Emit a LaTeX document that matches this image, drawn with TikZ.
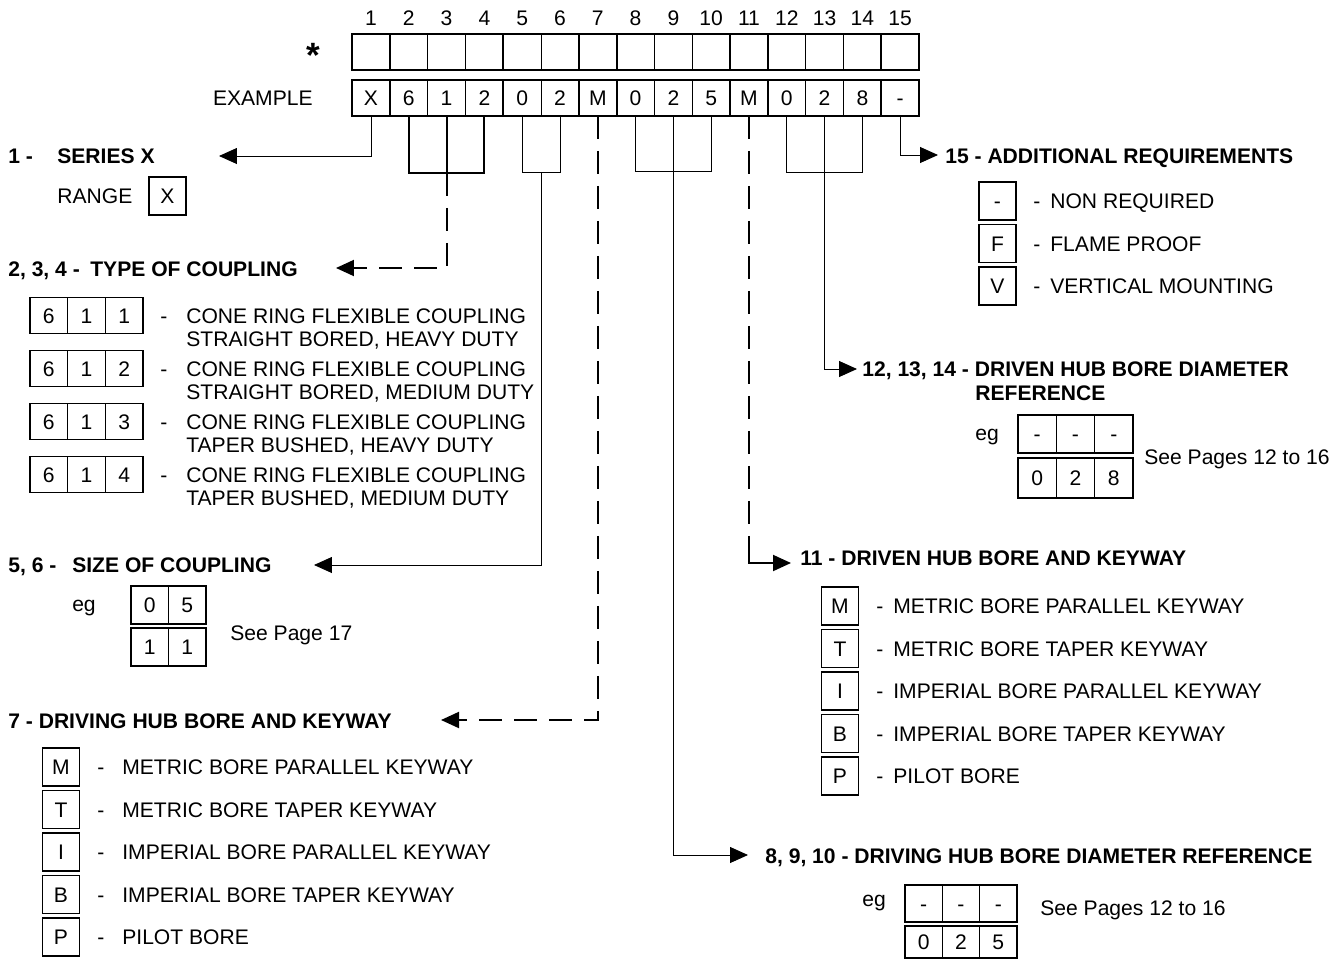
\documentclass[tikz,border=0pt]{standalone}
\usepackage{fontspec}
\setmainfont{Liberation Sans}
\usepackage{tikz}
\usetikzlibrary{arrows.meta,positioning}

\begin{document}
\begin{tikzpicture}[
  x=0.02cm, y=-0.02cm,
  font=\fontsize{12}{14}\selectfont,
  cell/.style={draw, line width=0.5pt, minimum width=0.756cm, minimum height=0.72cm,
    inner sep=0pt, outer sep=0pt, text height=8.6pt, text depth=0pt},
  keybox/.style={draw, line width=1.1pt, minimum width=0.74cm, minimum height=0.76cm,
    inner sep=0pt, text height=8.6pt, text depth=0pt},
  txt/.style={anchor=west, inner sep=0pt, text height=8.6pt, text depth=0pt},
  head/.style={txt, font=\fontsize{12}{14}\selectfont\bfseries},
  fine/.style={line width=0.5pt},
  heavy/.style={line width=1.1pt},
  gapline/.style={line width=1.1pt, dash pattern=on 0.46cm off 0.24cm},
  arrow/.style={-{Triangle[length=0.36cm, width=0.32cm]}}
]
\useasboundingbox (0,0) rectangle (1343,960);

\foreach \i/\v in {1/X,2/6,3/1,4/2,5/0,6/2,7/M,8/0,9/2,10/5,11/M,12/0,13/2,14/8,15/-} {
  \node[txt, anchor=center] (n\i) at ({371+(\i-1)*37.8},18) {\i};
  \node[cell] (c\i) at ({371+(\i-1)*37.8},52) {};
  \node[cell] (e\i) at ({371+(\i-1)*37.8},98) {\v};
}
\foreach \a/\b in {1/1,2/4,5/6,7/7,8/10,11/11,12/14,15/15} {
  \draw[heavy] (c\a.north west) rectangle (c\b.south east);
  \draw[heavy] (e\a.north west) rectangle (e\b.south east);
}
\node (star) at (313,55) {\fontsize{20}{20}\selectfont\bfseries *};
\node[txt, anchor=east] (exlbl) at (313,98) {EXAMPLE};

\node[head] (t1) at (8,156) {\makebox[0.98cm][l]{1 -}SERIES X};
\node[txt] (range) at (57,196) {RANGE};
\node[keybox] (kx) at (167.5,196) {X};

\node[head] (t2) at (8,269) {\makebox[1.64cm][l]{2, 3, 4 -}TYPE OF COUPLING};
\foreach \k/\second in {1/{STRAIGHT BORED, HEAVY DUTY}, 2/{STRAIGHT BORED, MEDIUM DUTY},
    3/{TAPER BUSHED, HEAVY DUTY}, 4/{TAPER BUSHED, MEDIUM DUTY}} {
  \node[cell, minimum width=0.754cm] (cpa\k) at (48.8,{315.5+53*(\k-1)}) {6};
  \node[cell, minimum width=0.754cm] (cpb\k) at (86.5,{315.5+53*(\k-1)}) {1};
  \node[cell, minimum width=0.754cm] (cpc\k) at (124.2,{315.5+53*(\k-1)}) {\k};
  \draw[heavy] (cpa\k.north west) rectangle (cpc\k.south east);
  \node[txt, anchor=center] (cpd\k) at (164,{315.5+53*(\k-1)}) {-};
  \node[txt] (cpt\k) at (186,{315.5+53*(\k-1)}) {CONE RING FLEXIBLE COUPLING};
  \node[txt] (cpu\k) at (186,{338.5+53*(\k-1)}) {\second};
}

\node[head] (t5) at (8,565) {\makebox[1.28cm][l]{5, 6 -}SIZE OF COUPLING};
\node[txt, anchor=center] (eg5) at (84,604) {eg};
\foreach \j/\u/\w in {0/0/1, 1/5/1} {
  \node[cell, minimum width=0.75cm, minimum height=0.76cm] (sa\j) at ({149.75+37.5*\j},605) {\u};
  \node[cell, minimum width=0.75cm, minimum height=0.76cm] (sb\j) at ({149.75+37.5*\j},647) {\w};
}
\draw[heavy] (sa0.north west) rectangle (sa1.south east);
\draw[heavy] (sb0.north west) rectangle (sb1.south east);
\node[txt] (sp5) at (230,633) {See Page 17};

\node[head] (t7) at (8,721) {7 - DRIVING HUB BORE AND KEYWAY};
\foreach \k/\l/\d in {0/M/METRIC BORE PARALLEL KEYWAY, 1/T/METRIC BORE TAPER KEYWAY,
    2/I/IMPERIAL BORE PARALLEL KEYWAY, 3/B/IMPERIAL BORE TAPER KEYWAY, 4/P/PILOT BORE} {
  \node[keybox] (dk\k) at (61,{767+42.5*\k}) {\l};
  \node[txt, anchor=center] (dd\k) at (101,{767+42.5*\k}) {-};
  \node[txt] (dt\k) at (122,{767+42.5*\k}) {\d};
}

\node[head] (t15) at (945,156) {15 - ADDITIONAL REQUIREMENTS};
\foreach \k/\l/\d in {0/-/NON REQUIRED, 1/F/FLAME PROOF, 2/V/VERTICAL MOUNTING} {
  \node[keybox] (ak\k) at (997.5,{201+42.5*\k}) {\l};
  \node[txt, anchor=center] (ad\k) at (1037,{201+42.5*\k}) {-};
  \node[txt] (at\k) at (1050,{201+42.5*\k}) {\d};
}

\node[head] (t12) at (862,369) {12, 13, 14 - DRIVEN HUB BORE DIAMETER};
\node[head] (t12b) at (975,393) {REFERENCE};
\node[txt, anchor=center] (eg12) at (987,433) {eg};
\foreach \j/\u/\w in {0/-/0, 1/-/2, 2/-/8} {
  \node[cell, minimum width=0.766cm, minimum height=0.76cm] (ra\j) at ({1037.2+38.3*\j},434) {\u};
  \node[cell, minimum width=0.766cm, minimum height=0.8cm] (rb\j) at ({1037.2+38.3*\j},478) {\w};
}
\draw[heavy] (ra0.north west) rectangle (ra2.south east);
\draw[heavy] (rb0.north west) rectangle (rb2.south east);
\node[txt] (sp12) at (1144,457) {See Pages 12 to 16};

\node[head] (t11) at (800,558) {11 - DRIVEN HUB BORE AND KEYWAY};
\foreach \k/\l/\d in {0/M/METRIC BORE PARALLEL KEYWAY, 1/T/METRIC BORE TAPER KEYWAY,
    2/I/IMPERIAL BORE PARALLEL KEYWAY, 3/B/IMPERIAL BORE TAPER KEYWAY, 4/P/PILOT BORE} {
  \node[keybox] (vk\k) at (840,{606+42.5*\k}) {\l};
  \node[txt, anchor=center] (vd\k) at (880,{606+42.5*\k}) {-};
  \node[txt] (vt\k) at (893,{606+42.5*\k}) {\d};
}

\node[head] (t8) at (765,856) {8, 9, 10 - DRIVING HUB BORE DIAMETER REFERENCE};
\node[txt, anchor=center] (eg8) at (874,899) {eg};
\foreach \j/\u/\w in {0/-/0, 1/-/2, 2/-/5} {
  \node[cell, minimum width=0.746cm, minimum height=0.74cm] (qa\j) at ({923.7+37.3*\j},903.5) {\u};
  \node[cell, minimum width=0.746cm, minimum height=0.64cm] (qb\j) at ({923.7+37.3*\j},942) {\w};
}
\draw[heavy] (qa0.north west) rectangle (qa2.south east);
\draw[heavy] (qb0.north west) rectangle (qb2.south east);
\node[txt] (sp8) at (1040,908) {See Pages 12 to 16};

\coordinate (a1) at (219,156);
\coordinate (j2) at (0,173);
\coordinate (a2) at (336,268);
\coordinate (j5) at (0,172);
\coordinate (m5) at (541.1,172);
\coordinate (a5) at (314,565);
\coordinate (a7) at (441,720);
\coordinate (j8) at (0,171);
\coordinate (a8) at (748,855);
\coordinate (k11) at (0,548);
\coordinate (a11) at (791,563);
\coordinate (j12) at (0,172);
\coordinate (a12) at (857,369);
\coordinate (a15) at (938,155);

\draw[fine, arrow] (e1.south) |- (a1);
\draw[heavy] (e2.south) -- (e2.south |- j2) -- (e4.south |- j2) -- (e4.south);
\draw[heavy] (e3.south) -- (e3.south |- j2);
\draw[gapline, arrow] (e3.south |- j2) |- (a2);
\draw[fine] (e5.south) -- (e5.south |- j5) -- (e6.south |- j5) -- (e6.south);
\draw[fine, arrow] (m5) |- (a5);
\draw[gapline, arrow] (e7.south) |- (a7);
\draw[fine] (e8.south) -- (e8.south |- j8) -- (e10.south |- j8) -- (e10.south);
\draw[fine, arrow] (e9.south) |- (a8);
\draw[gapline] (e11.south) -- (e11.south |- k11);
\draw[heavy, arrow] (e11.south |- k11) |- (a11);
\draw[fine] (e12.south) -- (e12.south |- j12) -- (e14.south |- j12) -- (e14.south);
\draw[fine, arrow] (e13.south) |- (a12);
\draw[fine, arrow] (e15.south) |- (a15);
\end{tikzpicture}
\end{document}
